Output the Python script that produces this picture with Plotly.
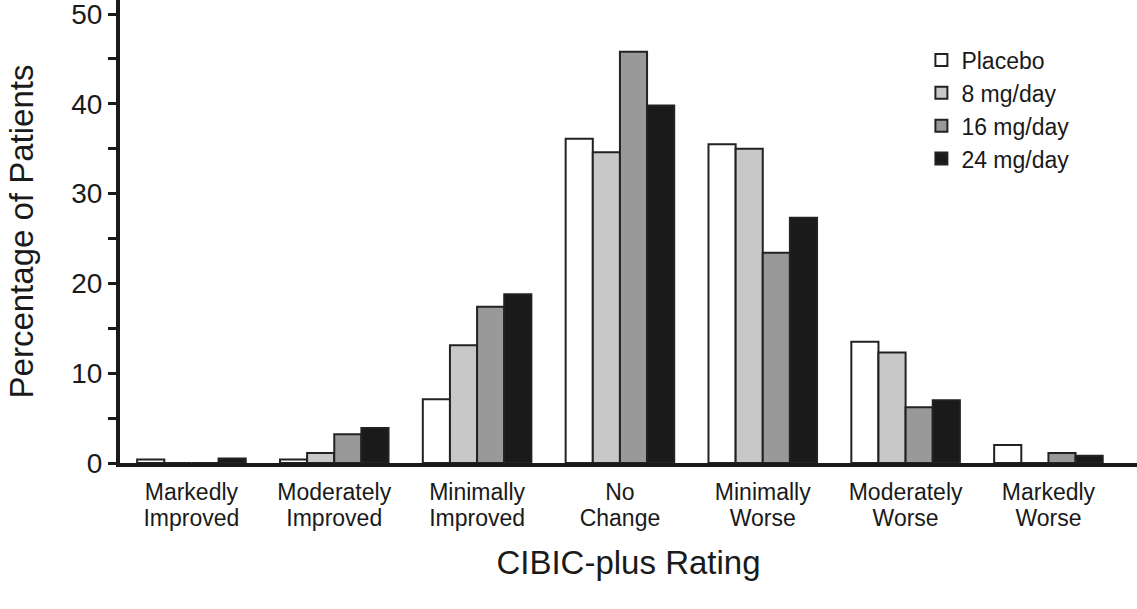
import plotly.graph_objects as go

categories = ["Markedly Improved", "Moderately Improved", "Minimally Improved",
              "No Change", "Minimally Worse", "Moderately Worse", "Markedly Worse"]
series_names = ["Placebo", "8 mg/day", "16 mg/day", "24 mg/day"]
placebo = [0.4, 0.4, 7.1, 36.1, 35.5, 13.5, 2.0]
mg8 = [0.0, 1.1, 13.1, 34.6, 35.0, 12.3, 0.0]
mg16 = [0.0, 3.2, 17.4, 45.8, 23.4, 6.2, 1.1]
mg24 = [0.5, 3.9, 18.8, 39.8, 27.3, 7.0, 0.8]
y_ticks = [0, 10, 20, 30, 40, 50]
boundaries = [0.5, 1.5, 2.5, 3.5, 4.5, 5.5, 6.5]

series_values = [placebo, mg8, mg16, mg24]
fills = ["#ffffff", "#c8c8c8", "#999999", "#1a1a1a"]
first_words = [c.split(" ")[0] for c in categories]
second_words = [c.split(" ")[1] for c in categories]

FONT = "Liberation Sans, Arial, Helvetica, sans-serif"
INK = "#1a1a1a"

fig = go.Figure()
for name, vals, col in zip(series_names, series_values, fills):
    fig.add_trace(go.Bar(
        x=categories, y=vals, name=name,
        marker=dict(color=col, line=dict(color="#222222", width=2)),
    ))
# empty helper trace so the second-line label axis is attached to a subplot
fig.add_trace(go.Scatter(x=[], y=[], xaxis="x4", yaxis="y", showlegend=False, hoverinfo="skip"))

XR = [-0.5, 6.62]
YR = [0, 51.56]
TICKFONT = dict(size=23, family=FONT, color=INK)

overlay_common = dict(showgrid=False, zeroline=False, showline=False, automargin=False,
                      ticklabeloverflow="allow")

fig.update_layout(
    width=1137, height=609,
    margin=dict(l=120, r=0, t=0, b=146, autoexpand=False),
    paper_bgcolor="white", plot_bgcolor="white",
    barmode="group", bargap=0.24, bargroupgap=0,
    font=dict(family=FONT, color=INK),
    showlegend=True,
    legend=dict(x=0.788, y=0.917, xanchor="left", yanchor="top",
                font=dict(size=23, family=FONT, color=INK),
                bgcolor="rgba(0,0,0,0)", tracegroupgap=0),
    xaxis=dict(
        type="category", range=XR, automargin=False, ticklabeloverflow="allow",
        showline=True, linewidth=4, linecolor=INK,
        ticks="", showgrid=False, zeroline=False,
        tickmode="array", tickvals=categories, ticktext=first_words,
        tickfont=TICKFONT, ticklabelstandoff=5,
        title=dict(text="CIBIC-plus Rating", font=dict(size=33, family=FONT, color=INK), standoff=48),
    ),
    xaxis2=dict(
        overlaying="x", anchor="y", type="linear", range=XR,
        tickvals=boundaries, ticks="outside", ticklen=13, tickwidth=3, tickcolor=INK,
        showticklabels=False, **overlay_common,
    ),
    xaxis3=dict(
        overlaying="x", anchor="y", type="linear", range=XR,
        tickvals=boundaries, ticks="inside", ticklen=7, tickwidth=3, tickcolor=INK,
        showticklabels=False, **overlay_common,
    ),
    xaxis4=dict(
        overlaying="x", anchor="y", side="bottom", type="linear", range=XR,
        tickmode="array", tickvals=list(range(len(categories))), ticktext=second_words,
        ticks="", tickfont=TICKFONT, ticklabelstandoff=39,
        showticklabels=True, **overlay_common,
    ),
    yaxis=dict(
        range=YR, tickvals=y_ticks, automargin=False, ticklabeloverflow="allow",
        showline=True, linewidth=4, linecolor=INK,
        ticks="outside", ticklen=8, tickwidth=3, tickcolor=INK,
        minor=dict(dtick=5, tick0=0, ticks="outside", ticklen=8, tickwidth=3, tickcolor=INK, showgrid=False),
        showgrid=False, zeroline=False,
        tickfont=dict(size=28, family=FONT, color=INK),
        title=dict(text="Percentage of Patients", font=dict(size=33, family=FONT, color=INK), standoff=29),
    ),
    yaxis2=dict(
        overlaying="y", anchor="x", side="left", range=YR,
        tickmode="linear", tick0=0, dtick=5,
        ticks="inside", ticklen=8, tickwidth=3, tickcolor=INK,
        showticklabels=False, **overlay_common,
    ),
)

fig.write_html("out.html", config={"displayModeBar": False},
               post_script="document.body.style.margin='0';")
